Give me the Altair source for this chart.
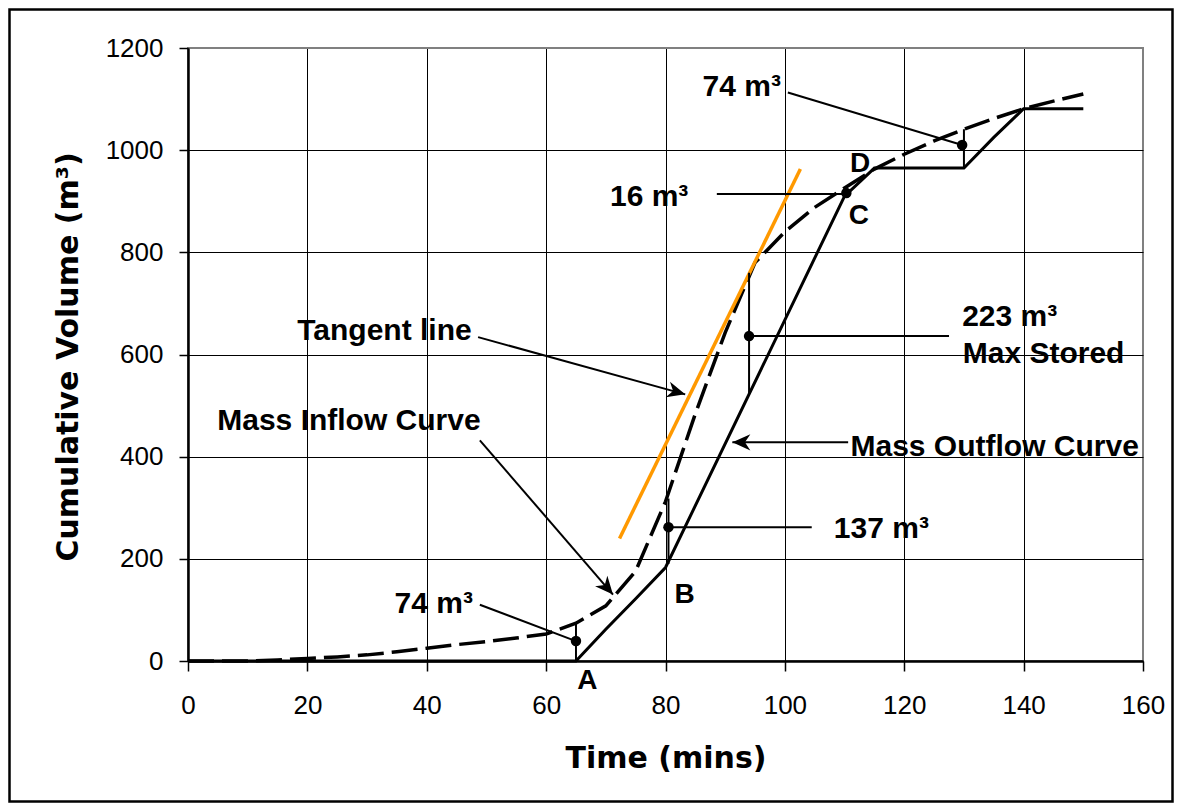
import math
import altair as alt
import pandas as pd

# ---------------- data ----------------
x_ticks = [0, 20, 40, 60, 80, 100, 120, 140, 160]
y_ticks = [0, 200, 400, 600, 800, 1000, 1200]

inflow_time = [0, 5, 10, 15, 20, 25, 30, 35, 40, 45, 50, 55, 60, 65, 70, 75, 80, 85,
               90, 95, 100, 105, 110, 115, 120, 125, 130, 135, 140, 145, 150]
inflow_vol = [0, 0, 0, 2, 5, 8, 12, 18, 25, 32, 38, 45, 53, 74, 108, 176, 312, 484,
              643, 780, 840, 888, 926, 963, 992, 1018, 1041, 1062, 1081, 1096, 1110]

outflow_time = [0, 65, 70, 75, 80, 110, 115, 130, 135, 140, 150]
outflow_vol = [0, 0, 62, 122, 183, 910, 965, 965, 1025, 1081, 1081]

tangent_time = [72.3, 102.6]
tangent_vol = [240, 963]

# storage (vertical) segments between curves
store_t = [65, 80.5, 94, 130]
store_lo = [0, 190, 522, 965]
store_hi = [74, 318, 760, 1041]

# leader lines ending in dots
lead_t1 = [48.9, 80.5, 94, 88.6, 100.5]
lead_v1 = [110, 262, 636, 914, 1113]
lead_t2 = [65, 104.5, 127.5, 110.3, 129.7]
lead_v2 = [39, 262, 636, 914, 1010]
dot_t = [65, 80.5, 94, 110.3, 129.7]
dot_v = [39, 262, 636, 916, 1010]

# arrows
arrow_t1 = [48.6, 48.9, 110.6]
arrow_v1 = [634, 432, 428]
arrow_t2 = [83.3, 71.2, 91.2]
arrow_v2 = [522, 130, 428]

# text labels (left-aligned, alphabetic baseline)
label_text = ["Tangent line", "Mass Inflow Curve", "Mass Outflow Curve", "223 m³",
              "Max Stored", "137 m³", "16 m³", "74 m³", "74 m³"]
label_t = [18.3, 4.9, 110.99, 129.7, 129.8, 108.2, 70.7, 86.2, 34.6]
label_v = [628, 452, 402, 656, 584, 240, 891, 1107, 93.4]

point_text = ["A", "B", "C", "D"]
point_t = [65.2, 81.5, 110.7, 110.9]
point_v = [-54, 113, 855, 958]

# ---------------- layout ----------------
W, H = 955, 613
X_MAX, Y_MAX = 160, 1200
PAD = {"left": 180, "top": 40, "right": 31, "bottom": 142}

xs = alt.Scale(domain=[0, X_MAX], nice=False, zero=False)
ys = alt.Scale(domain=[0, Y_MAX], nice=False, zero=False)

x_axis = alt.Axis(
    values=x_ticks, format="d", title="Time (mins)", grid=True,
    gridColor={"condition": {"test": "datum.value >= 160", "value": "#808080"}, "value": "black"},
    gridWidth=1, domainColor="black", domainWidth=2.5, tickColor="black", tickWidth=1.5,
    tickSize=10, labelFont="Liberation Sans", labelFontSize=26, labelColor="black",
    labelPadding=21, labelFlush=False, labelOverlap=False,
    titleFont="DejaVu Sans", titleFontSize=30, titleFontWeight="bold", titleColor="black",
    titleX=W / 2, titleY=106, titleBaseline="alphabetic", titleAnchor="middle", titleAlign="center",
)
y_axis = alt.Axis(
    values=y_ticks, format="d", title="Cumulative Volume (m³)", grid=True,
    gridColor={"condition": {"test": "datum.value >= 1200", "value": "#808080"}, "value": "black"},
    gridWidth=1, domainColor="black", domainWidth=2.5, tickColor="black", tickWidth=1.5,
    tickSize=9, labelFont="Liberation Sans", labelFontSize=26, labelColor="black",
    labelPadding=16, labelFlush=False, labelOverlap=False,
    titleFont="DejaVu Sans", titleFontSize=30, titleFontWeight="bold", titleColor="black",
    titleAngle=270, titleX=-111, titleY=H / 2 + 2, titleBaseline="alphabetic", titleAlign="center",
)


def X(field="t"):
    return alt.X(f"{field}:Q", scale=xs, axis=x_axis)


def Y(field="v"):
    return alt.Y(f"{field}:Q", scale=ys, axis=y_axis)


inflow_df = pd.DataFrame({"t": inflow_time, "v": inflow_vol})
outflow_df = pd.DataFrame({"t": outflow_time, "v": outflow_vol})
tangent_df = pd.DataFrame({"t": tangent_time, "v": tangent_vol})
store_df = pd.DataFrame({"t": store_t, "v": store_lo, "v2": store_hi})
lead_df = pd.DataFrame({"t": lead_t1, "v": lead_v1, "t2": lead_t2, "v2": lead_v2})
dot_df = pd.DataFrame({"t": dot_t, "v": dot_v})
arrow_df = pd.DataFrame({"t": arrow_t1, "v": arrow_v1, "t2": arrow_t2, "v2": arrow_v2})

# arrowhead rotation (screen space)
px_per_t = W / X_MAX
px_per_v = H / Y_MAX
angles = []
for a, b, c, d in zip(arrow_t1, arrow_v1, arrow_t2, arrow_v2):
    ang = math.degrees(math.atan2(-(d - b) * px_per_v, (c - a) * px_per_t)) % 360
    angles.append(ang)
head_df = pd.DataFrame({"t": arrow_t2, "v": arrow_v2, "ang": angles})

label_df = pd.DataFrame({"t": label_t, "v": label_v, "txt": label_text})
point_df = pd.DataFrame({"t": point_t, "v": point_v, "txt": point_text})

inflow = alt.Chart(inflow_df).mark_line(
    color="black", strokeWidth=3.5, strokeDash=[26, 8]
).encode(x=X(), y=Y(), order="t:Q")

frame = alt.Chart(pd.DataFrame({"a": [0]})).mark_rect(
    filled=False, stroke="black", strokeWidth=2.5
).encode(
    x=alt.value(-PAD["left"] + 1.5), x2=alt.value(W + PAD["right"] - 1.5),
    y=alt.value(-PAD["top"] + 1.5), y2=alt.value(H + PAD["bottom"] - 1.5),
)

outflow = alt.Chart(outflow_df).mark_line(color="black", strokeWidth=3).encode(
    x=X(), y=Y(), order="t:Q"
)

tangent = alt.Chart(tangent_df).mark_line(color="#FF9900", strokeWidth=3.5).encode(
    x=X(), y=Y()
)

store = alt.Chart(store_df).mark_rule(color="black", strokeWidth=2).encode(
    x=X(), y=Y(), y2="v2:Q"
)

leads = alt.Chart(lead_df).mark_rule(color="black", strokeWidth=2).encode(
    x=X(), y=Y(), x2="t2:Q", y2="v2:Q"
)

dots = alt.Chart(dot_df).mark_point(filled=True, color="black", size=110, opacity=1).encode(
    x=X(), y=Y()
)

arrows = alt.Chart(arrow_df).mark_rule(color="black", strokeWidth=2).encode(
    x=X(), y=Y(), x2="t2:Q", y2="v2:Q"
)

heads = alt.Chart(head_df).mark_point(
    shape="M0,0 L-1,-0.45 L-0.7,0 L-1,0.45 Z", filled=True, color="black",
    size=1296, opacity=1, strokeWidth=0,
).encode(
    x=X(), y=Y(), angle=alt.Angle("ang:Q", scale=None),
)

labels = alt.Chart(label_df).mark_text(
    font="Liberation Sans", fontSize=30, fontWeight="bold", color="black",
    align="left", baseline="alphabetic",
).encode(x=X(), y=Y(), text="txt:N")

points = alt.Chart(point_df).mark_text(
    font="Liberation Sans", fontSize=28, fontWeight="bold", color="black",
    align="left", baseline="alphabetic",
).encode(x=X(), y=Y(), text="txt:N")

chart = alt.layer(
    inflow, frame, outflow, tangent, store, leads, arrows, heads, dots, labels, points
).properties(
    width=W, height=H, autosize="none", padding=PAD, background="white",
).configure_view(
    stroke="#808080", strokeWidth=2,
)

chart.save("out.html", embed_options={"renderer": "svg", "actions": False})
